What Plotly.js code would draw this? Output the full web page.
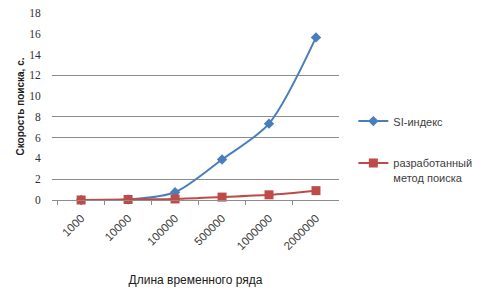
<!DOCTYPE html>
<html>
<head>
<meta charset="utf-8">
<script src="https://cdn.plot.ly/plotly-3.0.1.min.js"></script>
<style>html,body{margin:0;padding:0;background:#fff;}#chart{width:490px;height:294px;}</style>
</head>
<body>
<div id="chart"></div>
<script>
var categories = ['1000', '10000', '100000', '500000', '1000000', '2000000'];
var seriesNames = ['SI-индекс', 'разработанный<br>метод поиска'];
var blueValues = [0, 0.05, 0.75, 3.9, 7.35, 15.65];
var redValues = [0, 0.05, 0.1, 0.28, 0.5, 0.9];
var yTicks = [0, 2, 4, 6, 8, 10, 12, 14, 16, 18];
var visibleGrid = [2, 6, 8, 12, 18];

var traces = [
  {
    x: categories, y: blueValues, name: seriesNames[0], type: 'scatter', mode: 'lines+markers',
    line: {color: '#4A7EBB', width: 2, shape: 'spline', smoothing: 0.8},
    marker: {symbol: 'diamond', size: 8, color: '#4A7EBB'},
    cliponaxis: false, legendgroup: 'a'
  },
  {
    x: categories, y: redValues, name: seriesNames[1], type: 'scatter', mode: 'lines+markers',
    line: {color: '#BE4B48', width: 2, shape: 'spline', smoothing: 0.8},
    marker: {symbol: 'square', size: 9, color: '#BE4B48'},
    cliponaxis: false, legendgroup: 'b'
  },
  {
    x: [categories[0]], y: [0], yaxis: 'y2', showlegend: false, hoverinfo: 'skip',
    mode: 'markers', marker: {opacity: 0}
  }
];

var layout = {
  width: 490, height: 294,
  margin: {l: 52, r: 151, t: 13, b: 94},
  paper_bgcolor: '#fff', plot_bgcolor: 'rgba(0,0,0,0)',
  showlegend: true,
  font: {family: 'Liberation Sans, Arial, sans-serif', color: '#404040'},
  xaxis: {
    type: 'category', range: [-0.62, 5.49],
    tickangle: -45, tickfont: {size: 11.5, color: '#404040'},
    showline: true, linecolor: '#8C8C8C', linewidth: 1,
    ticks: 'outside', ticklen: 4, tickcolor: '#8C8C8C', tickson: 'boundaries',
    ticklabelstandoff: 6,
    showgrid: false, zeroline: false,
    title: {text: 'Длина временного ряда', font: {size: 12, color: '#202020'}, standoff: 24}
  },
  yaxis: {
    range: [0, 18], tickvals: yTicks, ticktext: yTicks.map(String),
    showgrid: false, zeroline: false, showline: false,
    ticks: 'outside', ticklen: 8, tickcolor: 'rgba(0,0,0,0)',
    tickfont: {family: 'Liberation Serif, Times New Roman, serif', size: 11.5, color: '#303030'},
    title: {text: '<b>Скорость поиска, с.</b>', font: {size: 10, color: '#202020'}, standoff: 2}
  },
  yaxis2: {
    overlaying: 'y', range: [0, 18], tickvals: visibleGrid, showticklabels: false,
    showgrid: true, gridcolor: '#8C8C8C', gridwidth: 1, zeroline: false, showline: false
  },
  legend: {
    x: 1.05, y: 0.495, xanchor: 'left', yanchor: 'top',
    font: {size: 11, color: '#404040'}, valign: 'top',
    tracegroupgap: 23, traceorder: 'grouped', itemwidth: 30
  }
};

Plotly.newPlot('chart', traces, layout, {staticPlot: true, displayModeBar: false});
</script>
</body>
</html>
